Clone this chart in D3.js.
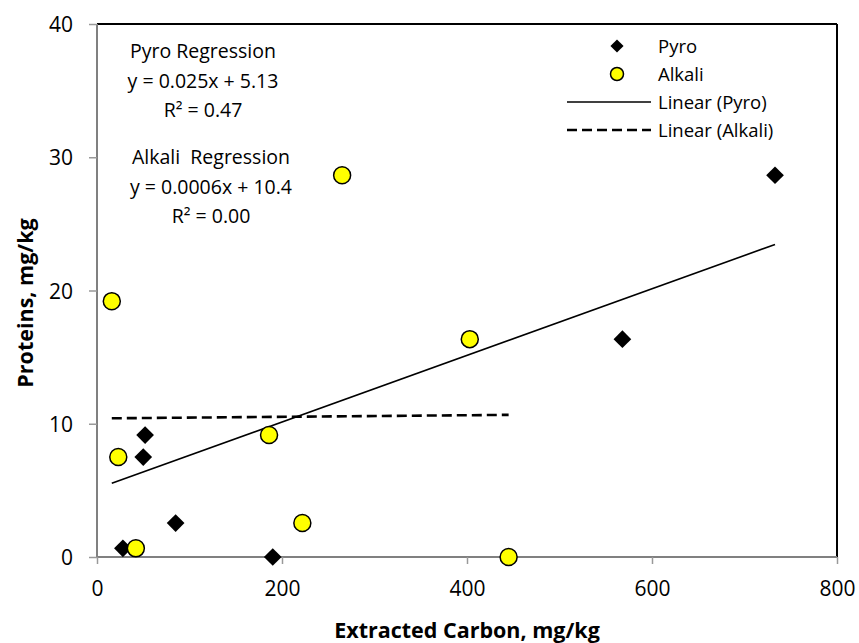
<!DOCTYPE html>
<html>
<head>
<meta charset="utf-8">
<script src="https://cdn.jsdelivr.net/npm/d3@7/dist/d3.min.js"></script>
<style>
  body { margin: 0; background: #fff; }
  svg { display: block; font-family: "Open Sans", sans-serif; }
</style>
</head>
<body>
<svg id="chart" width="859" height="643"></svg>
<script>
// Extracted carbon (mg/kg) vs proteins (mg/kg)
const pyroX = [16, 28, 50, 52, 85, 190, 568, 733];
const pyroY = [19.2, 0.65, 7.5, 9.15, 2.55, 0, 16.35, 28.65];
const alkaliX = [16, 23, 42, 186, 222, 265, 403, 445];
const alkaliY = [19.2, 7.5, 0.65, 9.15, 2.55, 28.65, 16.35, 0];

// Regression fits
const pyroFit = { slope: 0.025, intercept: 5.13 };
const alkaliFit = { slope: 0.0006, intercept: 10.4 };

const xTicks = [0, 200, 400, 600, 800];
const yTicks = [0, 10, 20, 30, 40];

const pyroNote = ["Pyro Regression", "y = 0.025x + 5.13", "R² = 0.47"];
const alkaliNote = ["Alkali  Regression", "y = 0.0006x + 10.4", "R² = 0.00"];
const legendLabels = ["Pyro", "Alkali", "Linear (Pyro)", "Linear (Alkali)"];

const svg = d3.select("#chart");
const plotL = 97, plotR = 837, plotT = 24, plotB = 557;

const x = d3.scaleLinear().domain([0, 800]).range([plotL, plotR]);
const y = d3.scaleLinear().domain([0, 40]).range([plotB, plotT]);

// Frame: black top/right, grey axes
svg.append("line").attr("x1", plotL).attr("x2", plotR).attr("y1", plotT).attr("y2", plotT)
  .attr("stroke", "#000").attr("stroke-width", 2);
svg.append("line").attr("x1", plotR).attr("x2", plotR).attr("y1", plotT).attr("y2", plotB)
  .attr("stroke", "#000").attr("stroke-width", 2);

const xAxis = svg.append("g").attr("transform", `translate(0,${plotB})`)
  .call(d3.axisBottom(x).tickValues(xTicks).tickSize(7).tickPadding(17));
const yAxis = svg.append("g").attr("transform", `translate(${plotL},0)`)
  .call(d3.axisLeft(y).tickValues(yTicks).tickSize(8).tickPadding(16));

[xAxis, yAxis].forEach(g => {
  g.select(".domain").attr("stroke", "#808080").attr("stroke-width", 2);
  g.selectAll(".tick line").attr("stroke", "#999").attr("stroke-width", 1.5);
  g.selectAll(".tick text").attr("fill", "#000").style("font-size", "21px")
    .style("font-family", "'Open Sans', sans-serif");
});
xAxis.select(".domain").attr("d", `M${plotL},0H${plotR}`);
yAxis.select(".domain").attr("d", `M0,${plotT}V${plotB}`);
yAxis.selectAll(".tick text").attr("dy", "0.36em");

// Axis titles
svg.append("text").attr("x", 467).attr("y", 638).attr("text-anchor", "middle")
  .style("font-size", "21.5px").style("font-weight", "bold").text("Extracted Carbon, mg/kg");
svg.append("text").attr("transform", "translate(33,303) rotate(-90)").attr("text-anchor", "middle")
  .style("font-size", "21.5px").style("font-weight", "bold").text("Proteins, mg/kg");

// Trend lines over each series' x range
function fitLine(xs, fit) {
  const [x0, x1] = d3.extent(xs);
  return [[x0, fit.intercept + fit.slope * x0], [x1, fit.intercept + fit.slope * x1]];
}
const line = d3.line().x(d => x(d[0])).y(d => y(d[1]));

svg.append("path").attr("d", line(fitLine(pyroX, pyroFit)))
  .attr("fill", "none").attr("stroke", "#000").attr("stroke-width", 1.6);
svg.append("path").attr("d", line(fitLine(alkaliX, alkaliFit)))
  .attr("fill", "none").attr("stroke", "#000").attr("stroke-width", 2.6)
  .attr("stroke-dasharray", "10,5");

// Markers
const diamond = d3.symbol().type(d3.symbolDiamond2).size(200);
const pyroPts = d3.zip(pyroX, pyroY);
const alkaliPts = d3.zip(alkaliX, alkaliY);

svg.append("g").selectAll("path").data(pyroPts).join("path")
  .attr("d", diamond)
  .attr("transform", d => `translate(${x(d[0])},${y(d[1])})`)
  .attr("fill", "#000");

svg.append("g").selectAll("circle").data(alkaliPts).join("circle")
  .attr("cx", d => x(d[0])).attr("cy", d => y(d[1])).attr("r", 8.5)
  .attr("fill", "#ffff00").attr("stroke", "#000").attr("stroke-width", 1.5);

// Regression notes
function note(lines, cx, y0) {
  const t = svg.append("text").attr("text-anchor", "middle")
    .style("font-size", "19.5px").style("white-space", "pre");
  lines.forEach((s, i) => t.append("tspan").attr("x", cx).attr("y", y0 + i * 29.5).text(s));
}
note(pyroNote, 203, 58);
note(alkaliNote, 211, 164);

// Legend
const lg = svg.append("g");
const ly = [46, 74, 102, 130];
const tx = 658;
lg.append("path").attr("d", d3.symbol().type(d3.symbolDiamond2).size(110))
  .attr("transform", `translate(617,${ly[0]})`).attr("fill", "#000");
lg.append("circle").attr("cx", 617).attr("cy", ly[1]).attr("r", 6.5)
  .attr("fill", "#ffff00").attr("stroke", "#000").attr("stroke-width", 1.5);
lg.append("line").attr("x1", 567).attr("x2", 651).attr("y1", ly[2]).attr("y2", ly[2])
  .attr("stroke", "#000").attr("stroke-width", 1.6);
lg.append("line").attr("x1", 567).attr("x2", 651).attr("y1", ly[3]).attr("y2", ly[3])
  .attr("stroke", "#000").attr("stroke-width", 2.6).attr("stroke-dasharray", "10,5");
legendLabels.forEach((s, i) => {
  lg.append("text").attr("x", tx).attr("y", ly[i]).attr("dy", "0.36em")
    .style("font-size", "18.5px").text(s);
});
</script>
</body>
</html>
